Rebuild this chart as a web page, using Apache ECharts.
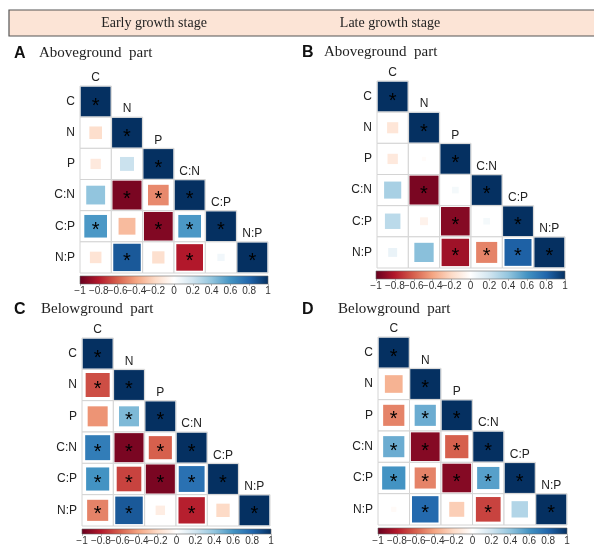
<!DOCTYPE html>
<html>
<head>
<meta charset="utf-8">
<script src="https://cdn.jsdelivr.net/npm/echarts@6/dist/echarts.min.js"></script>
<style>
  html, body { margin: 0; padding: 0; background: #fff; }
  #chart { width: 594px; height: 546px; }
</style>
</head>
<body>
<div id="chart"></div>
<script>
const vars = ['C', 'N', 'P', 'C:N', 'C:P', 'N:P']
const tickLabels = ['−1', '−0.8', '−0.6', '−0.4', '−0.2', '0', '0.2', '0.4', '0.6', '0.8', '1']
const rdbu = ['#67001F', '#B2182B', '#D6604D', '#F4A582', '#FDDBC7', '#FFFFFF',
  '#D1E5F0', '#92C5DE', '#4393C3', '#2166AC', '#053061']

// lower triangle, row by row (row i holds columns 0..i)
const corrA = [
  [1],
  [-0.18, 1],
  [-0.12, 0.22, 1],
  [0.40, -0.95, -0.48, 1],
  [0.58, -0.32, -0.93, 0.58, 1],
  [-0.15, 0.85, -0.17, -0.80, 0.06, 1],
]
const sigA = [[1], [0, 1], [0, 0, 1], [0, 1, 1, 1], [1, 0, 1, 1, 1], [0, 1, 0, 1, 0, 1]]

const corrB = [
  [1],
  [-0.14, 1],
  [-0.12, -0.02, 1],
  [0.33, -0.95, 0.05, 1],
  [0.27, -0.07, -0.92, 0.05, 1],
  [0.09, 0.42, -0.85, -0.50, 0.82, 1],
]
const sigB = [[1], [0, 1], [0, 0, 1], [0, 1, 0, 1], [0, 0, 1, 0, 1], [0, 0, 1, 1, 1, 1]]

const corrC = [
  [1],
  [-0.65, 1],
  [-0.45, 0.45, 1],
  [0.70, -0.95, -0.60, 1],
  [0.60, -0.68, -0.95, 0.75, 1],
  [-0.50, 0.85, -0.10, -0.78, -0.20, 1],
]
const sigC = [[1], [1, 1], [0, 1, 1], [1, 1, 1, 1], [1, 1, 1, 1, 1], [1, 1, 0, 1, 0, 1]]

const corrD = [
  [1],
  [-0.35, 1],
  [-0.50, 0.50, 1],
  [0.50, -0.92, -0.60, 1],
  [0.60, -0.50, -0.92, 0.55, 1],
  [-0.03, 0.78, -0.25, -0.68, 0.30, 1],
]
const sigD = [[1], [0, 1], [1, 1, 1], [1, 1, 1, 1], [1, 1, 1, 1, 1], [0, 1, 0, 1, 0, 1]]

const panels = [
  { corr: corrA, sig: sigA, grid: { left: 80, top: 86, width: 188, height: 187 }, bar: { left: 80, top: 276, width: 188, height: 8 } },
  { corr: corrB, sig: sigB, grid: { left: 377, top: 81, width: 188, height: 187 }, bar: { left: 376, top: 271, width: 189, height: 8 } },
  { corr: corrC, sig: sigC, grid: { left: 82, top: 338, width: 188, height: 188 }, bar: { left: 82, top: 529, width: 189, height: 8 } },
  { corr: corrD, sig: sigD, grid: { left: 378, top: 337, width: 189, height: 188 }, bar: { left: 378, top: 528, width: 189, height: 8 } },
]

const SANS = 'Liberation Sans, Arial, sans-serif'
const SERIF = 'Liberation Serif, Times New Roman, serif'

function cells(corr, sig) {
  const out = []
  corr.forEach((row, i) => row.forEach((r, j) => out.push([j, i, r, sig[i][j]])))
  return out
}

function renderCell(params, api) {
  const col = api.value(0), row = api.value(1), r = api.value(2), sig = api.value(3)
  const c = api.coord([col, row])
  const s = api.size([1, 1])
  const w = s[0], h = s[1]
  const k = Math.sqrt(Math.abs(r))
  const sw = (w - 1.5) * k, sh = (h - 1.5) * k
  const children = [
    { type: 'rect', shape: { x: c[0] - w / 2, y: c[1] - h / 2, width: w, height: h },
      style: { fill: '#fff', stroke: '#d4d4d4', lineWidth: 1 } },
    { type: 'rect', shape: { x: c[0] - sw / 2, y: c[1] - sh / 2, width: sw, height: sh },
      style: { fill: api.visual('color') } },
  ]
  if (sig) {
    children.push({ type: 'text', x: c[0], y: c[1] + 4.5,
      style: { text: '*', fontSize: 20, fontFamily: SANS, fill: '#000', align: 'center', verticalAlign: 'middle' } })
  }
  if (col === row) {
    children.push({ type: 'text', x: c[0], y: c[1] - h / 2 - 8,
      style: { text: vars[col], fontSize: 12, fontFamily: SANS, fill: '#222', align: 'center', verticalAlign: 'middle' } })
  }
  return { type: 'group', children }
}

function renderBar(params, api) {
  const a = api.coord([api.value(0), 0])
  const b = api.coord([api.value(1), 0])
  const h = api.size([0, 1])[1]
  return {
    type: 'rect',
    shape: { x: a[0], y: a[1] - h / 2, width: b[0] - a[0], height: h },
    style: {
      fill: new echarts.graphic.LinearGradient(0, 0, 1, 0,
        rdbu.map((color, i) => ({ offset: i / (rdbu.length - 1), color }))),
      stroke: '#666', lineWidth: 0.6,
    },
  }
}

function buildOption() {
  const grid = [], xAxis = [], yAxis = [], series = []
  panels.forEach((p, i) => {
    grid.push(p.grid)
    xAxis.push({ type: 'category', data: vars, gridIndex: i, show: false })
    yAxis.push({
      type: 'category', data: vars, gridIndex: i, inverse: true,
      axisLine: { show: false }, axisTick: { show: false }, splitLine: { show: false },
      axisLabel: { color: '#222', fontSize: 12, fontFamily: SANS, margin: 5 },
    })
    series.push({
      type: 'custom', xAxisIndex: i, yAxisIndex: i, data: cells(p.corr, p.sig),
      renderItem: renderCell, clip: false, silent: true,
      encode: { x: 0, y: 1 },
    })
  })
  panels.forEach((p, i) => {
    const gi = panels.length + i
    grid.push(p.bar)
    xAxis.push({
      type: 'value', gridIndex: gi, min: -1, max: 1, interval: 0.2,
      axisLine: { show: false }, splitLine: { show: false },
      axisTick: { show: true, length: 2, lineStyle: { color: '#888', width: 0.6 } },
      axisLabel: {
        color: '#333', fontSize: 10, fontFamily: SANS, margin: 2,
        formatter: (v) => tickLabels[Math.round((v + 1) / 0.2)],
      },
    })
    yAxis.push({ type: 'category', data: ['bar'], gridIndex: gi, show: false })
    series.push({
      type: 'custom', xAxisIndex: gi, yAxisIndex: gi, data: [[-1, 1]],
      renderItem: renderBar, clip: false, silent: true,
      encode: { x: [0, 1] },
    })
  })

  const title = (x, y, letter, lx, text) => [
    { type: 'text', left: x, top: y, style: { text: letter, font: 'bold 16px ' + SANS, fill: '#111' } },
    { type: 'text', left: lx, top: y, style: { text: text, font: '15px ' + SERIF, fill: '#222' } },
  ]

  return {
    animation: false,
    backgroundColor: '#fff',
    grid, xAxis, yAxis, series,
    visualMap: {
      type: 'continuous', show: false, min: -1, max: 1, dimension: 2,
      seriesIndex: [0, 1, 2, 3], inRange: { color: rdbu },
    },
    graphic: [
      { type: 'rect', shape: { x: 9, y: 10, width: 590, height: 26 },
        style: { fill: '#FCE4D6', stroke: '#555', lineWidth: 1.2 } },
      { type: 'text', x: 154, y: 23, style: { text: 'Early growth stage', font: '14px ' + SERIF, fill: '#222', align: 'center', verticalAlign: 'middle' } },
      { type: 'text', x: 390, y: 23, style: { text: 'Late growth stage', font: '14px ' + SERIF, fill: '#222', align: 'center', verticalAlign: 'middle' } },
      ...title(14, 46, 'A', 39, 'Aboveground  part'),
      ...title(302, 45, 'B', 324, 'Aboveground  part'),
      ...title(14, 302, 'C', 41, 'Belowground  part'),
      ...title(302, 302, 'D', 338, 'Belowground  part'),
    ],
  }
}

const chart = echarts.init(document.getElementById('chart'))
chart.setOption(buildOption())
</script>
</body>
</html>
